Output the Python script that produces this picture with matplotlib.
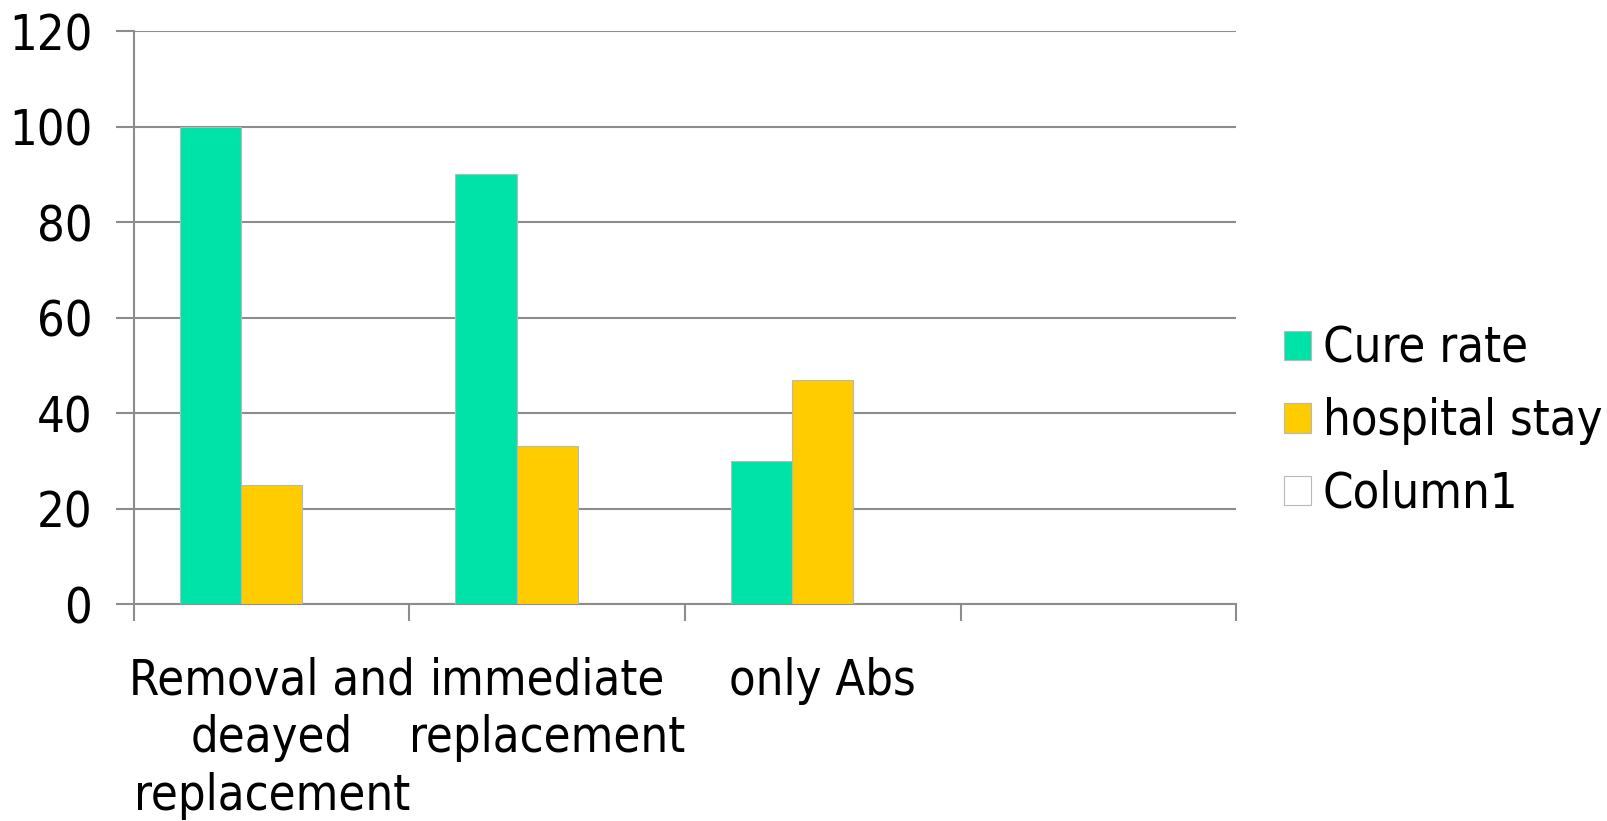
import numpy as np
import matplotlib
matplotlib.use("Agg")
import matplotlib.pyplot as plt
from matplotlib.patches import Patch

categories = ["Removal and\ndeayed\nreplacement", "immediate\nreplacement", "only Abs", ""]
cure_rate = [100, 90, 30, np.nan]
hospital_stay = [25, 33, 47, np.nan]
column1 = [np.nan, np.nan, np.nan, np.nan]
series_names = ["Cure rate", "hospital stay", "Column1"]
colors = ["#00E3A8", "#FFCC00", "#FFFFFF"]
yticks = [0, 20, 40, 60, 80, 100, 120]

plt.rcParams['font.family'] = ['DejaVu Sans']
plt.rcParams['font.stretch'] = 'condensed'
fs = 35
grey = "#8c8c8c"

fig = plt.figure(figsize=(16.08, 8.21), dpi=100)
ax = fig.add_axes([0.0833, 0.2643, 0.7687 - 0.0833, 0.9622 - 0.2643])

x = np.arange(len(categories))
w = 1 / 4.5
for i, vals in enumerate([cure_rate, hospital_stay, column1]):
    ax.bar(x - w + i * w, vals, w, color=colors[i], edgecolor="#b8b8b8",
           linewidth=0.8, zorder=3)

ax.set_xlim(-0.5, len(categories) - 0.5)
ax.set_ylim(0, 120)
ax.set_yticks(yticks)
ax.yaxis.grid(True, color=grey, linewidth=1.5, zorder=0)
ax.tick_params(axis='y', length=13, width=1.5, color=grey, pad=17, labelsize=fs)

ax.set_xticks(x)
ax.set_xticklabels(categories, fontsize=fs, linespacing=1.25)
ax.set_xticks(np.arange(len(categories) + 1) - 0.5, minor=True)
ax.tick_params(axis='x', which='major', length=0, pad=38)
ax.tick_params(axis='x', which='minor', length=12, width=1.5, color=grey)

for s in ["top", "right"]:
    ax.spines[s].set_visible(False)
for s in ["left", "bottom"]:
    ax.spines[s].set_color(grey)
    ax.spines[s].set_linewidth(1.5)

handles = [Patch(facecolor=c, edgecolor="#b8b8b8", linewidth=0.8) for c in colors]
fig.legend(handles, series_names, loc="center left", bbox_to_anchor=(0.7985, 0.487),
           frameon=False, fontsize=fs, handlelength=0.55, handleheight=0.55,
           handletextpad=0.25, labelspacing=0.5, borderpad=0, borderaxespad=0)

fig.savefig("out.png", dpi=100)
